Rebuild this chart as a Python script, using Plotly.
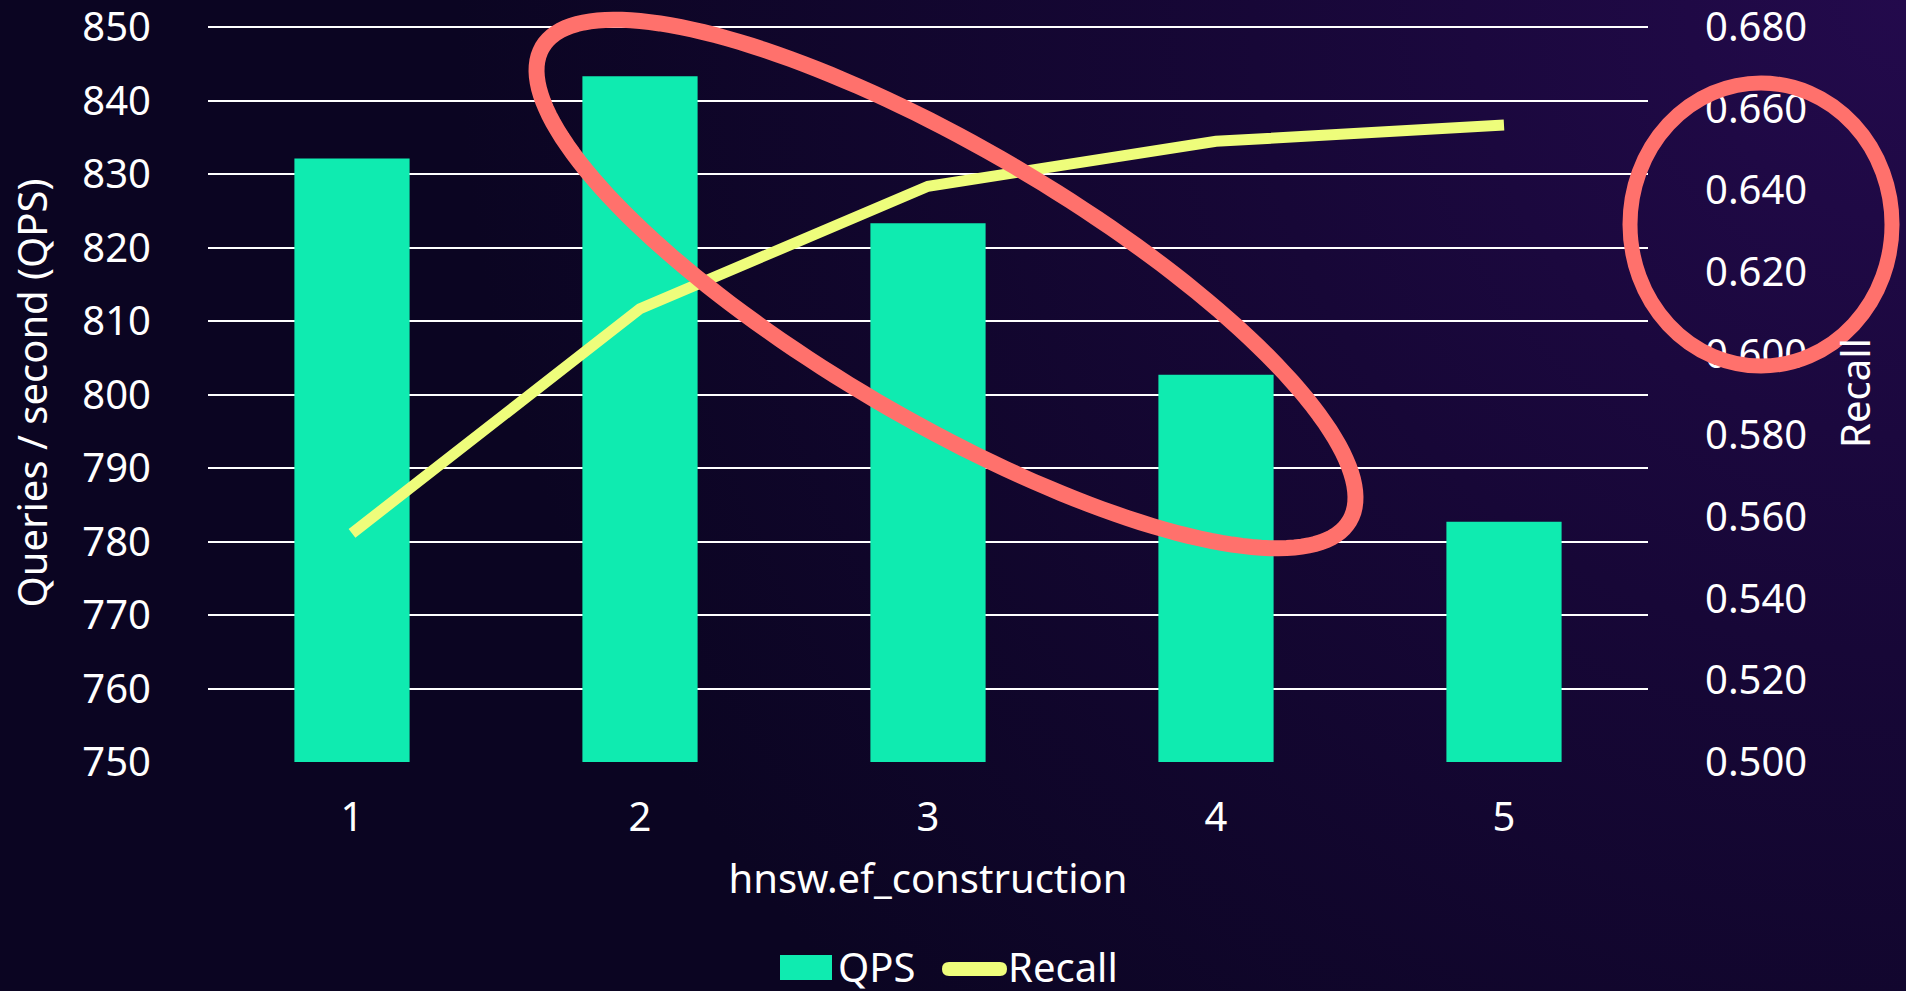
import base64
import numpy as np
import plotly.graph_objects as go

# ---------------- data ----------------
categories = ["1", "2", "3", "4", "5"]
qps = [832.1, 843.3, 823.3, 802.7, 782.7]
recall = [0.556, 0.611, 0.641, 0.652, 0.656]
left_ticks = [750, 760, 770, 780, 790, 800, 810, 820, 830, 840, 850]
right_ticks = [0.50, 0.52, 0.54, 0.56, 0.58, 0.60, 0.62, 0.64, 0.66, 0.68]

# ---------------- style ----------------
W, H = 1906, 991
TOP_PAD = 3                      # px of empty plot above the top gridline
ML, MR, MT, MB = 208, 258, 27 - TOP_PAD, 229
PW, PH = W - ML - MR, H - MT - MB
LEFT_RANGE = [750, 850 + TOP_PAD * 100 / 735]
RIGHT_RANGE = [0.5, 0.68 + TOP_PAD * 0.18 / 735]
BAR_COLOR = "#0FEBB0"
LINE_COLOR = "#EEFD7B"
RED = "#FF716C"
FONT = "Noto Sans"
FS = 40


def pp(x, y):
    """pixel -> paper coordinates"""
    return (x - ML) / PW, 1 - (y - MT) / PH


# background gradient as an svg image
svg = f'''<svg xmlns="http://www.w3.org/2000/svg" width="{W}" height="{H}">
<defs><radialGradient id="g" gradientUnits="userSpaceOnUse" cx="{W}" cy="0" r="1450">
<stop offset="0" stop-color="#230A4C"/><stop offset="0.45" stop-color="#170737"/>
<stop offset="1" stop-color="#0B0522"/></radialGradient></defs>
<rect width="{W}" height="{H}" fill="#0B0522"/>
<rect width="{W}" height="{H}" fill="url(#g)"/></svg>'''
bg_src = "data:image/svg+xml;base64," + base64.b64encode(svg.encode()).decode()

fig = go.Figure()
fig.add_trace(go.Bar(x=categories, y=qps, name="QPS", marker=dict(color=BAR_COLOR, line=dict(width=0)),
                     yaxis="y", hoverinfo="skip"))
fig.add_trace(go.Scatter(x=categories, y=recall, name="Recall", mode="lines",
                         line=dict(color=LINE_COLOR, width=11), yaxis="y2", hoverinfo="skip"))

# ---------------- annotation ellipses ----------------
cx, cy, a, b, th = 946, 284, 468, 136, np.deg2rad(30.4)
t = np.linspace(0, 2 * np.pi, 181)
ex = cx + a * np.cos(t) * np.cos(th) - b * np.sin(t) * np.sin(th)
ey = cy + a * np.cos(t) * np.sin(th) + b * np.sin(t) * np.cos(th)
pts = [pp(x, y) for x, y in zip(ex, ey)]
path = "M " + " L ".join(f"{x:.5f},{y:.5f}" for x, y in pts) + " Z"

shapes = [
    dict(type="path", path=path, xref="paper", yref="paper", line=dict(color=RED, width=16), layer="above"),
]
c0 = pp(1630, 83)
c1 = pp(1892, 366)
shapes.append(dict(type="circle", xref="paper", yref="paper", x0=c0[0], x1=c1[0], y0=c1[1], y1=c0[1],
                   line=dict(color=RED, width=15), layer="above"))

# ---------------- legend (custom) ----------------
LEG_Y = 967
q0 = pp(780, LEG_Y - 12)
q1 = pp(832, LEG_Y + 13)
shapes.append(dict(type="rect", xref="paper", yref="paper", x0=q0[0], x1=q1[0], y0=q1[1], y1=q0[1],
                   fillcolor=BAR_COLOR, line=dict(width=0)))
# rounded line symbol (pill)
lx0, lx1, ly0, ly1, rr = 942, 1007, LEG_Y - 5, LEG_Y + 9, 7
pill_px = [("M", lx0 + rr, ly0), ("L", lx1 - rr, ly0), ("Q", lx1, ly0, lx1, ly0 + rr),
           ("Q", lx1, ly1, lx1 - rr, ly1), ("L", lx0 + rr, ly1), ("Q", lx0, ly1, lx0, ly1 - rr),
           ("Q", lx0, ly0, lx0 + rr, ly0)]
pill = ""
for seg in pill_px:
    cmd, coords = seg[0], seg[1:]
    parts = []
    for i in range(0, len(coords), 2):
        px_, py_ = pp(coords[i], coords[i + 1])
        parts.append(f"{px_:.5f},{py_:.5f}")
    pill += cmd + " " + " ".join(parts) + " "
pill += "Z"
shapes.append(dict(type="path", path=pill, xref="paper", yref="paper", fillcolor=LINE_COLOR,
                   line=dict(width=0)))

annotations = []
for label, xpix in [("QPS", 836), ("Recall", 1006)]:
    ax_, ay_ = pp(xpix, LEG_Y - 1)
    annotations.append(dict(text=label, x=ax_, y=ay_, xref="paper", yref="paper", xanchor="left",
                            yanchor="middle", showarrow=False,
                            font=dict(family=FONT, size=FS, color="white")))

fig.update_layout(
    width=W, height=H,
    margin=dict(l=ML, r=MR, t=MT, b=MB, autoexpand=False),
    paper_bgcolor="#0B0522",
    plot_bgcolor="rgba(0,0,0,0)",
    font=dict(family=FONT, size=FS, color="white"),
    showlegend=False,
    bargap=0.6,
    images=[dict(source=bg_src, xref="paper", yref="paper", x=-ML / PW, y=1 + MT / PH,
                 sizex=W / PW, sizey=H / PH, sizing="stretch", layer="below", xanchor="left", yanchor="top")],
    xaxis=dict(type="category", showgrid=False, zeroline=False, showline=False, automargin=False,
               ticks="outside", ticklen=20, tickcolor="rgba(0,0,0,0)",
               tickfont=dict(size=FS, color="white"),
               title=dict(text="hnsw.ef_construction", font=dict(size=FS, color="white"), standoff=22)),
    yaxis=dict(range=LEFT_RANGE, tickvals=left_ticks, showgrid=True, gridcolor="white", gridwidth=2,
               zeroline=False, showline=False, ticks="outside", ticklen=48, tickcolor="rgba(0,0,0,0)",
               ticklabeloverflow="allow", automargin=False,
               tickfont=dict(size=FS, color="white"),
               title=dict(text="Queries / second (QPS)", font=dict(size=FS, color="white"), standoff=22)),
    yaxis2=dict(range=RIGHT_RANGE, tickvals=right_ticks, tickformat=".3f", overlaying="y", side="right",
                showgrid=False, zeroline=False, showline=False, ticks="outside", ticklen=48,
                ticklabeloverflow="allow", automargin=False,
                tickcolor="rgba(0,0,0,0)", tickfont=dict(size=FS, color="white"),
                title=dict(text="Recall", font=dict(size=FS, color="white"), standoff=35)),
    shapes=shapes,
    annotations=annotations,
)

fig.write_html("out.html")
